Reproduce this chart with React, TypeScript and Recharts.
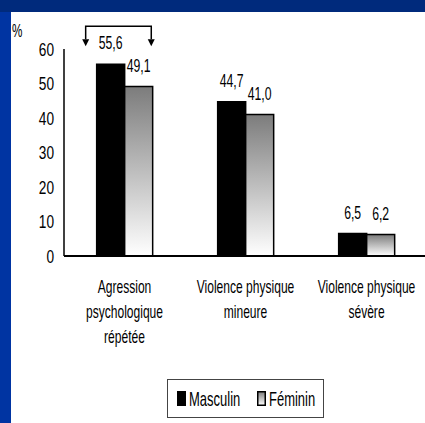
import React from 'react';
import { BarChart, Bar, XAxis, YAxis, LabelList } from 'recharts';

const categories = [
  ['Agression', 'psychologique', 'répétée'],
  ['Violence physique', 'mineure'],
  ['Violence physique', 'sévère'],
];
const masculin = [55.6, 44.7, 6.5];
const feminin = [49.1, 41.0, 6.2];
const yTicks = [0, 10, 20, 30, 40, 50, 60];
const series = [
  { key: 'masculin', name: 'Masculin', fill: '#000000' },
  { key: 'feminin', name: 'Féminin', fill: 'url(#femGrad)' },
];

const data = categories.map((lines, i) => ({
  cat: lines.join(' '),
  lines,
  masculin: masculin[i],
  feminin: feminin[i],
}));

const FONT = '"Liberation Sans", Arial, Helvetica, sans-serif';

function SqText({ x, y, size, anchor = 'start', sx = 0.68, children }: any) {
  return (
    <text
      transform={`translate(${x},${y}) scale(${sx},1)`}
      fontSize={size}
      fontFamily={FONT}
      textAnchor={anchor}
      fill="#000"
    >
      {children}
    </text>
  );
}

const fmt = (v: number) => v.toFixed(1).replace('.', ',');

function XTick({ x, y, payload }: any) {
  const lines = data[payload.index]?.lines ?? [payload.value];
  return (
    <g>
      {lines.map((l: string, i: number) => (
        <SqText key={i} x={x} y={y + 37 + i * 25} size={18} anchor="middle" sx={0.67}>
          {l}
        </SqText>
      ))}
    </g>
  );
}

function YTick({ x, y, payload }: any) {
  return (
    <SqText x={x} y={y + 6.5} size={18} anchor="end" sx={0.76}>
      {payload.value}
    </SqText>
  );
}

function ValueLabel({ x, y, width, value }: any) {
  return (
    <SqText x={x + width / 2} y={y - 15} size={18} anchor="middle" sx={0.68}>
      {fmt(value)}
    </SqText>
  );
}

function MascLabel(props: any) {
  const { x, y, width, index } = props;
  if (index !== 0) return <ValueLabel {...props} />;
  const left = x - 11;
  const right = x + width * 1.95;
  const hy = y - 38;
  const base = y - 25;
  const tip = y - 18;
  return (
    <g>
      <path
        d={`M${left},${base} L${left},${hy} L${right},${hy} L${right},${base}`}
        fill="none"
        stroke="#000"
        strokeWidth={1.5}
      />
      <path d={`M${left - 3.5},${base} L${left + 3.5},${base} L${left},${tip} Z`} fill="#000" />
      <path d={`M${right - 3.5},${base} L${right + 3.5},${base} L${right},${tip} Z`} fill="#000" />
      <ValueLabel {...props} />
    </g>
  );
}

export default function App() {
  return (
    <div
      style={{
        position: 'absolute',
        left: 0,
        top: 0,
        width: 425,
        height: 423,
        overflow: 'hidden',
        background: '#ffffff',
      }}
    >
      <div style={{ position: 'absolute', left: 0, top: 0, width: 425, height: 12, background: '#002a7c' }} />
      <div style={{ position: 'absolute', left: 0, top: 12, width: 11, height: 411, background: '#0034a2' }} />

      <div style={{ position: 'absolute', left: 0, top: 0 }}>
        <BarChart
          width={427}
          height={360}
          data={data}
          margin={{ top: 49, right: 0, left: 0, bottom: 0 }}
          barCategoryGap="27%"
          barGap={0}
        >
          <defs>
            <linearGradient id="femGrad" x1="0" y1="0" x2="0" y2="1">
              <stop offset="0%" stopColor="#7c7c7c" />
              <stop offset="100%" stopColor="#ffffff" />
            </linearGradient>
          </defs>
          <XAxis
            dataKey="cat"
            height={104}
            tickLine={false}
            tickSize={0}
            tickMargin={0}
            axisLine={{ stroke: '#000', strokeWidth: 2 }}
            tick={<XTick />}
            interval={0}
          />
          <YAxis
            width={64}
            domain={[0, 60]}
            ticks={yTicks}
            tickLine={false}
            tickSize={0}
            tickMargin={10}
            axisLine={{ stroke: '#000', strokeWidth: 1.5 }}
            tick={<YTick />}
            interval={0}
          />
          <Bar dataKey="masculin" name="Masculin" fill="#000" stroke="#000" strokeWidth={1.5} isAnimationActive={false}>
            <LabelList dataKey="masculin" content={<MascLabel />} />
          </Bar>
          <Bar dataKey="feminin" name="Féminin" fill="url(#femGrad)" stroke="#000" strokeWidth={1.5} isAnimationActive={false}>
            <LabelList dataKey="feminin" content={<ValueLabel />} />
          </Bar>
        </BarChart>
      </div>

      <svg style={{ position: 'absolute', left: 0, top: 0 }} width={60} height={45}>
        <SqText x={12} y={37} size={18} sx={0.65}>%</SqText>
      </svg>

      <svg style={{ position: 'absolute', left: 167, top: 379 }} width={158} height={40}>
        <defs>
          <linearGradient id="legGrad" x1="0" y1="0" x2="0" y2="1">
            <stop offset="0%" stopColor="#7c7c7c" />
            <stop offset="100%" stopColor="#ffffff" />
          </linearGradient>
        </defs>
        <rect x={0.5} y={0.5} width={156} height={38} fill="#fff" stroke="#444" strokeWidth={1} />
        {series.map((s, i) => {
          const ox = i === 0 ? 10 : 90;
          return (
            <g key={s.key}>
              <rect
                x={ox + 0.75}
                y={12.75}
                width={7.5}
                height={13.5}
                fill={i === 0 ? '#000' : 'url(#legGrad)'}
                stroke="#000"
                strokeWidth={1.5}
              />
              <SqText x={ox + 12} y={27} size={20} sx={0.65}>
                {s.name}
              </SqText>
            </g>
          );
        })}
      </svg>
    </div>
  );
}
